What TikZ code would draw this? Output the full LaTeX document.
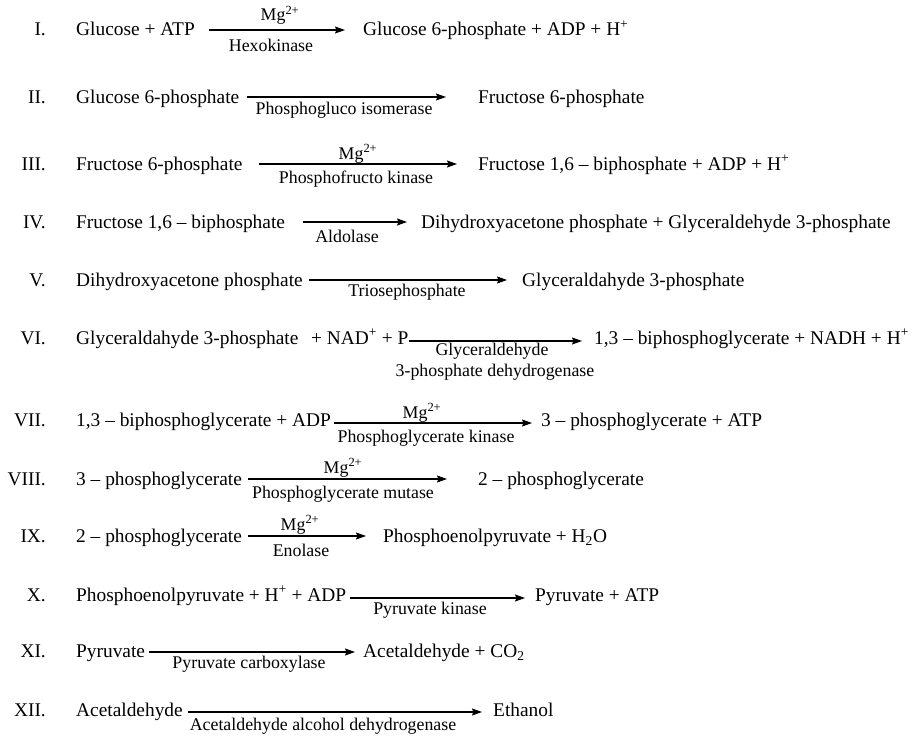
\documentclass[tikz,border=0pt]{standalone}
\usepackage{fontspec}
\setmainfont{Liberation Serif}
\usetikzlibrary{arrows.meta}
\newcommand{\mainsz}{\fontsize{19.45}{23}\selectfont}
\newcommand{\enzsz}{\fontsize{17.9}{21}\selectfont}
\newcommand{\mgion}{Mg\textsuperscript{2+}}
\tikzset{
  num/.style={anchor=base east, inner sep=0pt, font=\mainsz},
  chem/.style={anchor=base west, inner sep=0pt, font=\mainsz},
  enz/.style={anchor=base, inner sep=0pt, font=\enzsz},
  rxn/.style={line width=1.2bp, -{Stealth[length=10bp,width=7bp,inset=1.5bp]}}
}
\begin{document}
\begin{tikzpicture}[x=1bp,y=-1bp]
\useasboundingbox (0,0) rectangle (915,737);

% I
\node[num]  (n1) at (46,36) {I.};
\node[chem] (r1) at (76,36) {Glucose + ATP};
\node[chem] (p1) at (363,36) {Glucose 6-phosphate + ADP + H\textsuperscript{+}};
\coordinate (a1s) at (209,30); \coordinate (a1e) at (345,30);
\draw[rxn] (a1s) -- (a1e);
\node[enz]  (m1) at (280,21) {\mgion};
\node[enz]  (e1) at (271,52) {Hexokinase};

% II
\node[num]  (n2) at (46,103) {II.};
\node[chem] (r2) at (76,103) {Glucose 6-phosphate};
\node[chem] (p2) at (478,103) {Fructose 6-phosphate};
\coordinate (a2s) at (247,97); \coordinate (a2e) at (446,97);
\draw[rxn] (a2s) -- (a2e);
\node[enz]  (e2) at (344,114) {Phosphogluco isomerase};

% III
\node[num]  (n3) at (46,170) {III.};
\node[chem] (r3) at (76,170) {Fructose 6-phosphate};
\node[chem] (p3) at (478,170) {Fructose 1,6 -- biphosphate + ADP + H\textsuperscript{+}};
\coordinate (a3s) at (259,164); \coordinate (a3e) at (457,164);
\draw[rxn] (a3s) -- (a3e);
\node[enz]  (m3) at (358,159) {\mgion};
\node[enz]  (e3) at (356,183) {Phosphofructo kinase};

% IV
\node[num]  (n4) at (46,228) {IV.};
\node[chem] (r4) at (76,228) {Fructose 1,6 -- biphosphate};
\node[chem] (p4) at (421,228) {Dihydroxyacetone phosphate + Glyceraldehyde 3-phosphate};
\coordinate (a4s) at (303,222); \coordinate (a4e) at (407,222);
\draw[rxn] (a4s) -- (a4e);
\node[enz]  (e4) at (347,242) {Aldolase};

% V
\node[num]  (n5) at (46,286) {V.};
\node[chem] (r5) at (76,286) {Dihydroxyacetone phosphate};
\node[chem] (p5) at (522,286) {Glyceraldahyde 3-phosphate};
\coordinate (a5s) at (309,280); \coordinate (a5e) at (507,280);
\draw[rxn] (a5s) -- (a5e);
\node[enz]  (e5) at (407,296) {Triosephosphate};

% VI
\node[num]  (n6) at (46,344) {VI.};
\node[chem] (r6) at (76,344) {Glyceraldahyde 3-phosphate\hspace{0.4em} + NAD\textsuperscript{+} + P};
\node[chem] (p6) at (594,344) {1,3 -- biphosphoglycerate + NADH + H\textsuperscript{+}};
\coordinate (a6s) at (409,341); \coordinate (a6e) at (582,341);
\draw[rxn] (a6s) -- (a6e);
\node[enz]  (e6a) at (492,355) {Glyceraldehyde};
\node[enz]  (e6b) at (495,376) {3-phosphate dehydrogenase};

% VII
\node[num]  (n7) at (46,426) {VII.};
\node[chem] (r7) at (76,426) {1,3 -- biphosphoglycerate + ADP};
\node[chem] (p7) at (541,426) {3 -- phosphoglycerate + ATP};
\coordinate (a7s) at (334,423); \coordinate (a7e) at (532,423);
\draw[rxn] (a7s) -- (a7e);
\node[enz]  (m7) at (422,418) {\mgion};
\node[enz]  (e7) at (426,442) {Phosphoglycerate kinase};

% VIII
\node[num]  (n8) at (46,485) {VIII.};
\node[chem] (r8) at (76,485) {3 -- phosphoglycerate};
\node[chem] (p8) at (478,485) {2 -- phosphoglycerate};
\coordinate (a8s) at (248,479); \coordinate (a8e) at (447,479);
\draw[rxn] (a8s) -- (a8e);
\node[enz]  (m8) at (343,473) {\mgion};
\node[enz]  (e8) at (343,498) {Phosphoglycerate mutase};

% IX
\node[num]  (n9) at (46,542) {IX.};
\node[chem] (r9) at (76,542) {2 -- phosphoglycerate};
\node[chem] (p9) at (383,542) {Phosphoenolpyruvate + H\textsubscript{2}O};
\coordinate (a9s) at (248,536); \coordinate (a9e) at (366,536);
\draw[rxn] (a9s) -- (a9e);
\node[enz]  (m9) at (300,530) {\mgion};
\node[enz]  (e9) at (301,556) {Enolase};

% X
\node[num]  (n10) at (46,601) {X.};
\node[chem] (r10) at (76,601) {Phosphoenolpyruvate + H\textsuperscript{+} + ADP};
\node[chem] (p10) at (535,601) {Pyruvate + ATP};
\coordinate (a10s) at (350,598); \coordinate (a10e) at (525,598);
\draw[rxn] (a10s) -- (a10e);
\node[enz]  (e10) at (430,614) {Pyruvate kinase};

% XI
\node[num]  (n11) at (46,657) {XI.};
\node[chem] (r11) at (76,657) {Pyruvate};
\node[chem] (p11) at (363,657) {Acetaldehyde + CO\textsubscript{2}};
\coordinate (a11s) at (149,652); \coordinate (a11e) at (355,652);
\draw[rxn] (a11s) -- (a11e);
\node[enz]  (e11) at (249,668) {Pyruvate carboxylase};

% XII
\node[num]  (n12) at (46,716) {XII.};
\node[chem] (r12) at (76,716) {Acetaldehyde};
\node[chem] (p12) at (493,716) {Ethanol};
\coordinate (a12s) at (188,712); \coordinate (a12e) at (482,712);
\draw[rxn] (a12s) -- (a12e);
\node[enz]  (e12) at (323,730) {Acetaldehyde alcohol dehydrogenase};
\end{tikzpicture}
\end{document}
